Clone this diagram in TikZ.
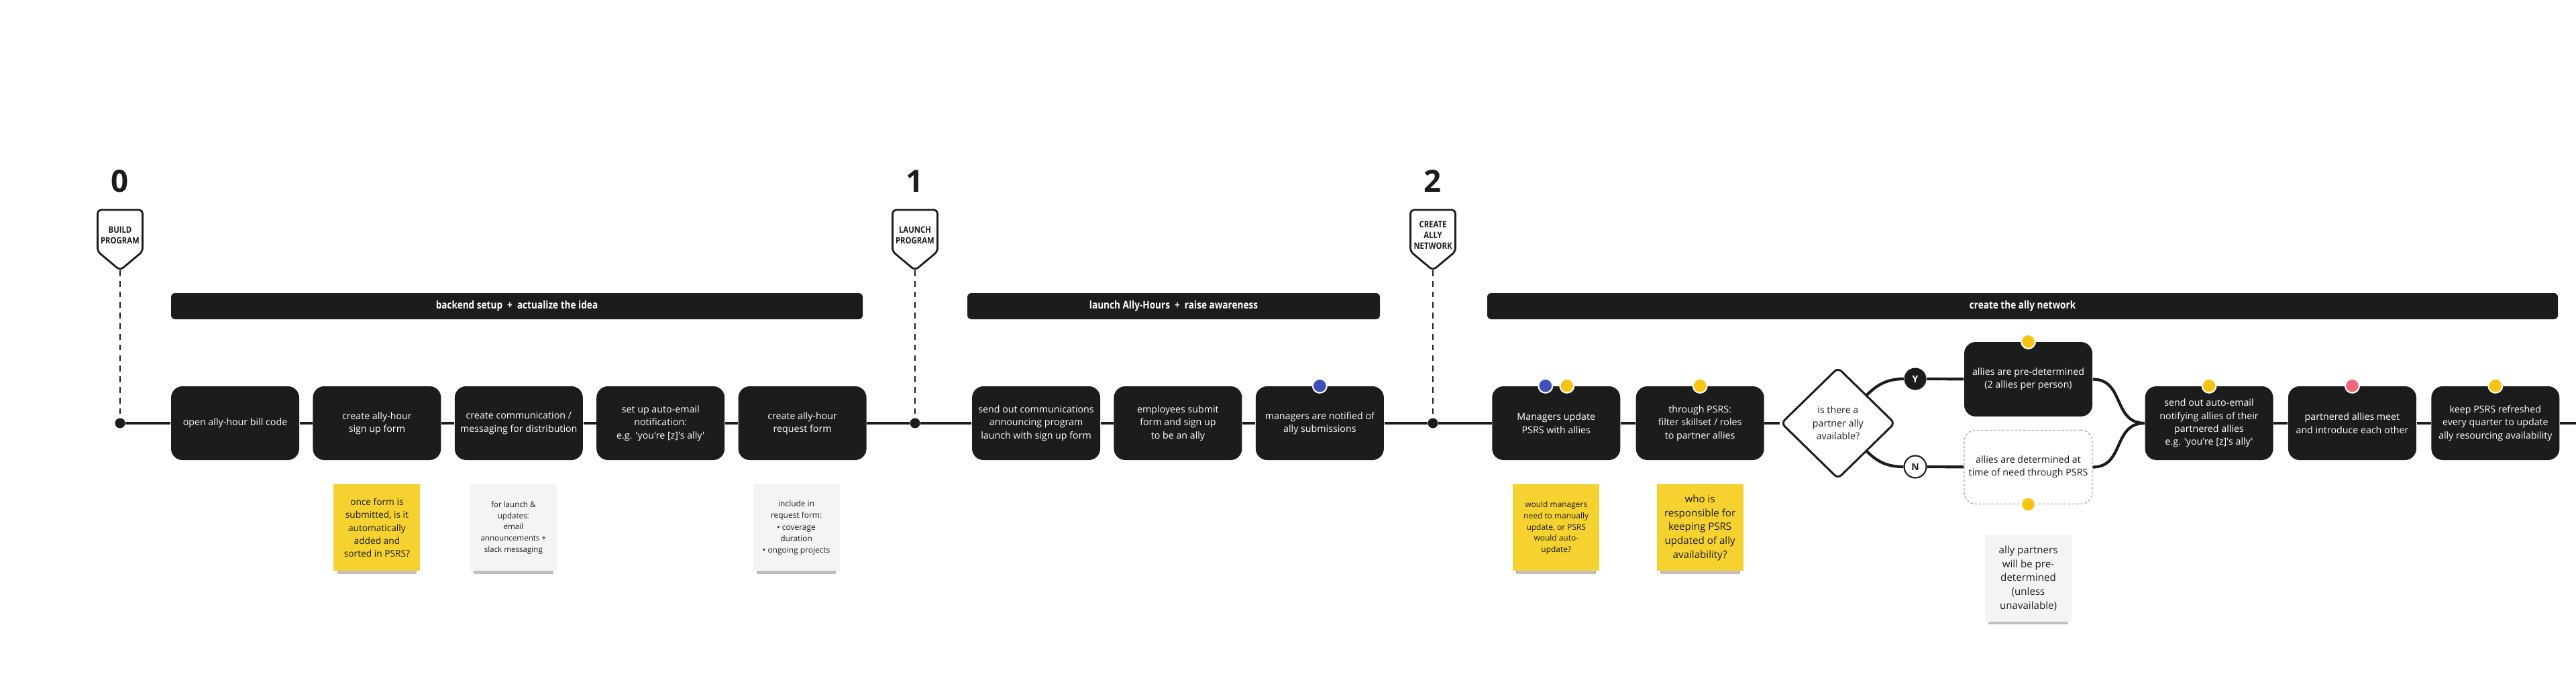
\documentclass[tikz,border=0pt]{standalone}
\usepackage{fontspec}
\newfontfamily\osans{Open Sans}
\newfontfamily\oshead[FakeStretch=0.86]{Open Sans}
\usetikzlibrary{shapes.geometric,positioning,calc,shadows}
\definecolor{boxdark}{HTML}{1C1C1C}
\definecolor{noteyellow}{HTML}{F5D230}
\definecolor{notegray}{HTML}{F3F4F6}
\definecolor{dotblue}{HTML}{4050B8}
\definecolor{dotyellow}{HTML}{F8C413}
\definecolor{dotpink}{HTML}{F2677A}
\tikzstyle{task} = [rectangle, rounded corners=0.17cm, fill=boxdark, text=white,
    minimum width=1.91cm, minimum height=1.10cm, inner sep=0pt, align=center,
    font=\osans\fontsize{4.05}{5.5}\selectfont]
\tikzstyle{pending} = [task, fill=white, text=boxdark, draw=gray!70, line width=0.35pt, dash pattern=on 1pt off 0.8pt]
\tikzstyle{bar} = [rectangle, rounded corners=0.06cm, fill=boxdark, text=white, minimum height=0.39cm, inner sep=0pt,
    font=\oshead\bfseries\fontsize{4.5}{5}\selectfont]
\tikzstyle{stagenum} = [inner sep=0pt, text=boxdark, font=\osans\bfseries\fontsize{13}{15}\selectfont]
\tikzstyle{stagelbl} = [inner sep=0pt, align=center, text=boxdark, font=\oshead\bfseries\fontsize{3.75}{4.6}\selectfont]
\tikzstyle{marker} = [draw=boxdark, line width=0.8pt, rounded corners=1.5pt, fill=white]
\tikzstyle{guide} = [draw=boxdark, line width=0.4pt, dash pattern=on 2.5pt off 2pt]
\tikzstyle{milestone} = [circle, fill=boxdark, minimum size=0.15cm, inner sep=0pt]
\tikzstyle{flow} = [draw=boxdark, line width=1.2pt]
\tikzstyle{tag} = [circle, draw=white, line width=0.6pt, minimum size=0.21cm, inner sep=0pt]
\tikzstyle{decision} = [diamond, draw=boxdark, line width=0.85pt, fill=white, rounded corners=2pt,
    minimum width=1.70cm, minimum height=1.66cm, inner sep=0pt, align=center, text=boxdark,
    font=\osans\fontsize{4.05}{5.5}\selectfont]
\tikzstyle{choice} = [circle, minimum size=0.33cm, inner sep=0pt, font=\osans\bfseries\fontsize{4}{4}\selectfont]
\tikzstyle{note} = [rectangle, minimum width=1.29cm, minimum height=1.29cm, inner sep=0pt, align=center, text=boxdark,
    drop shadow={shadow xshift=0pt, shadow yshift=-2.9pt, shadow scale=0.92, opacity=0.25, fill=black}]

\begin{document}
\begin{tikzpicture}[node distance=0.19cm]
    \useasboundingbox (0,0) rectangle (38.4,-10.08);

    % stage markers
    \foreach \nm/\x/\lbl in {0/1.79/{BUILD\\PROGRAM}, 1/13.64/{LAUNCH\\PROGRAM}, 2/21.36/{CREATE\\ALLY\\NETWORK}} {
        \node [stagenum] (num\nm) at (\x,-2.70) {\nm};
        \draw [marker] (\x-0.335,-3.13) -- (\x+0.335,-3.13) -- (\x+0.335,-3.75) -- (\x,-4.03) coordinate (tip\nm) -- (\x-0.335,-3.75) -- cycle;
        \node [stagelbl] (lbl\nm) at (\x,-3.51) {\lbl};
        \node [milestone] (p\nm) at (\x,-6.31) {};
        \draw [guide] (tip\nm) -- (p\nm);
    }

    % phase bars
    \node [bar, minimum width=10.31cm] (setup) at (7.705,-4.565) {backend setup~~+~~actualize the idea};
    \node [bar, minimum width=6.15cm] (launch) at (17.495,-4.565) {launch Ally-Hours~~+~~raise awareness};
    \node [bar, minimum width=15.96cm] (network) at (30.15,-4.565) {create the ally network};

    % steps
    \node [task] (b1) at (3.505,-6.31) {open ally-hour bill code};
    \node [task, right=of b1] (b2) {create ally-hour\\sign up form};
    \node [task, right=of b2] (b3) {create communication /\\messaging for distribution};
    \node [task, right=of b3] (b4) {set up auto-email\\notification:\\e.g. 'you're [z]'s ally'};
    \node [task, right=of b4] (b5) {create ally-hour\\request form};
    \node [task, right=1.56cm of b5] (b6) {send out communications\\announcing program\\launch with sign up form};
    \node [task, right=of b6] (b7) {employees submit\\form and sign up\\to be an ally};
    \node [task, right=of b7] (b8) {managers are notified of\\ally submissions};
    \node [task, right=1.60cm of b8] (b9) {Managers update\\PSRS with allies};
    \node [task, right=0.22cm of b9] (b10) {through PSRS:\\filter skillset / roles\\to partner allies};
    \node [decision, right=0.23cm of b10] (dec) {is there a\\partner ally\\available?};
    \node [choice, fill=boxdark, text=white] (yes) at (28.55,-5.65) {Y};
    \node [choice, draw=boxdark, line width=0.6pt, fill=white, text=boxdark] (no) at (28.55,-6.96) {N};
    \node [task, minimum height=1.11cm] (pre) at (30.235,-5.655) {allies are pre-determined\\(2 allies per person)};
    \node [pending] (tbd) at (30.235,-6.965) {allies are determined at\\time of need through PSRS};
    \node [task] (send) at (32.93,-6.31) {send out auto-email\\notifying allies of their\\partnered allies\\e.g. 'you're [z]'s ally'};
    \node [task, right=0.21cm of send] (meet) {partnered allies meet\\and introduce each other};
    \node [task, right=0.21cm of meet] (keep) {keep PSRS refreshed\\every quarter to update\\ally resourcing availability};
    \coordinate (end) at (38.4,-6.31);

    % timeline
    \foreach \a/\b in {p0/b1,b1/b2,b2/b3,b3/b4,b4/b5,b5/p1,p1/b6,b6/b7,b7/b8,b8/p2,p2/b9,b9/b10,b10/dec,yes/pre,no/tbd,send/meet,meet/keep,keep/end}
        \draw [flow] (\a) -- (\b);
    \draw [flow] (dec.north east) to[out=45, in=180] (yes);
    \draw [flow] (dec.south east) to[out=-45, in=180] (no);
    \draw [flow] (pre) to[out=0, in=180, looseness=1.2] (send);
    \draw [flow] (tbd) to[out=0, in=180, looseness=1.2] (send);

    % reactions
    \node [tag, fill=dotblue] (t8) at (b8.north) {};
    \node [tag, fill=dotblue] (t9a) at ($(b9.north)+(-0.16,0)$) {};
    \node [tag, fill=dotyellow] (t9b) at ($(b9.north)+(0.16,0)$) {};
    \node [tag, fill=dotyellow] (t10) at (b10.north) {};
    \node [tag, fill=dotyellow] (tpre) at (pre.north) {};
    \node [tag, fill=dotyellow] (ttbd) at (tbd.south) {};
    \node [tag, fill=dotyellow] (tsend) at (send.north) {};
    \node [tag, fill=dotpink] (tmeet) at (meet.north) {};
    \node [tag, fill=dotyellow] (tkeep) at (keep.north) {};

    % sticky notes
    \node [note, fill=noteyellow, below=0.35cm of b2, font=\osans\fontsize{3.9}{5.5}\selectfont] (n1) {once form is\\submitted, is it\\automatically\\added and\\sorted in PSRS?};
    \node [note, fill=notegray, below=0.35cm of b3, xshift=-0.08cm, font=\osans\fontsize{3.3}{4.8}\selectfont] (n2) {for launch \&\\updates:\\email\\announcements +\\slack messaging};
    \node [note, fill=notegray, below=0.35cm of b5, xshift=-0.09cm, font=\osans\fontsize{3.4}{4.9}\selectfont] (n3) {include in\\request form:\\• coverage\\duration\\• ongoing projects};
    \node [note, fill=noteyellow, below=0.35cm of b9, font=\osans\fontsize{3.4}{4.7}\selectfont] (n4) {would managers\\need to manually\\update, or PSRS\\would auto-\\update?};
    \node [note, fill=noteyellow, below=0.35cm of b10, font=\osans\fontsize{4.3}{5.9}\selectfont] (n5) {who is\\responsible for\\keeping PSRS\\updated of ally\\availability?};
    \node [note, fill=notegray, below=0.45cm of tbd, font=\osans\fontsize{4.3}{5.9}\selectfont] (n6) {ally partners\\will be pre-\\determined\\(unless\\unavailable)};
\end{tikzpicture}
\end{document}
